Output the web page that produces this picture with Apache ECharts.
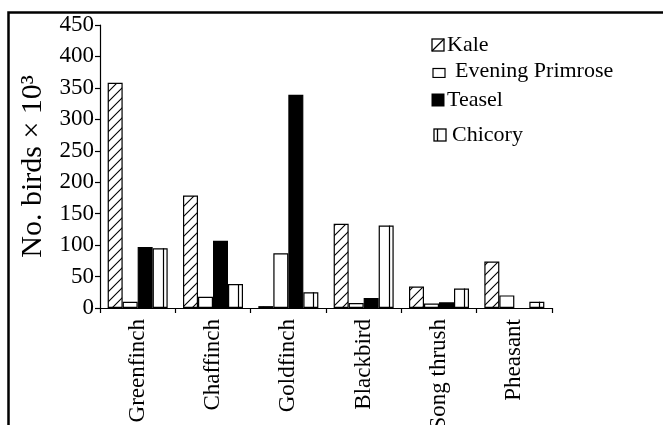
<!DOCTYPE html>
<html>
<head>
<meta charset="utf-8">
<script src="https://cdn.jsdelivr.net/npm/echarts@6/dist/echarts.min.js"></script>
<style>html,body{margin:0;padding:0;background:#fff;}#c{width:663px;height:425px;}</style>
</head>
<body>
<div id="c"></div>
<script>
const categories = ['Greenfinch', 'Chaffinch', 'Goldfinch', 'Blackbird', 'Song thrush', 'Pheasant'];
const kale = [358, 179, 3, 134, 34, 74];
const eveningPrimrose = [10, 18, 87, 8, 7, 20];
const teasel = [97, 107, 339, 16, 9, null];
const chicory = [95, 38, 25, 131, 31, 10];
const seriesNames = ['Kale', 'Evening Primrose', 'Teasel', 'Chicory'];
const yMin = 0, yMax = 450, yStep = 50;

const FONT = 'Liberation Serif';

function mk(w, h, draw) {
  const c = document.createElement('canvas');
  c.width = w; c.height = h;
  const ctx = c.getContext('2d');
  draw(ctx);
  return c;
}
// hatch pattern for Kale bars
const hatch = mk(10, 10, ctx => {
  ctx.fillStyle = '#fff'; ctx.fillRect(0, 0, 10, 10);
  ctx.strokeStyle = '#000'; ctx.lineWidth = 1.1;
  ctx.beginPath();
  ctx.moveTo(-1, 11); ctx.lineTo(11, -1);
  ctx.moveTo(-1, 1); ctx.lineTo(1, -1);
  ctx.moveTo(9, 11); ctx.lineTo(11, 9);
  ctx.stroke();
});
// legend icons
const iconKale = mk(14, 14, ctx => {
  ctx.fillStyle = '#fff'; ctx.fillRect(0, 0, 14, 14);
  ctx.strokeStyle = '#000'; ctx.lineWidth = 1.3;
  ctx.strokeRect(1, 1, 12, 12);
  ctx.beginPath(); ctx.moveTo(1, 13); ctx.lineTo(13, 1); ctx.stroke();
}).toDataURL();
const iconEP = mk(14, 14, ctx => {
  ctx.fillStyle = '#fff'; ctx.fillRect(0, 0, 14, 14);
  ctx.strokeStyle = '#000'; ctx.lineWidth = 1.2;
  ctx.strokeRect(1, 4.5, 12, 9);
}).toDataURL();
const iconTeasel = mk(14, 14, ctx => {
  ctx.fillStyle = '#000'; ctx.fillRect(0.5, 0.5, 13, 13);
}).toDataURL();
const iconChicory = mk(14, 14, ctx => {
  ctx.fillStyle = '#fff'; ctx.fillRect(0, 0, 14, 14);
  ctx.strokeStyle = '#000'; ctx.lineWidth = 1.3;
  ctx.strokeRect(1, 1, 12, 12);
  ctx.beginPath(); ctx.moveTo(4.5, 1); ctx.lineTo(4.5, 13); ctx.stroke();
}).toDataURL();

const chart = echarts.init(document.getElementById('c'), null, {renderer: 'canvas'});

function legendAt(name, icon, left, cy, padLeft) {
  return {
    data: [{name: name, icon: 'image://' + icon}],
    left: left, top: cy - 12, orient: 'vertical', padding: 0,
    itemWidth: 14, itemHeight: 14, itemGap: 0, selectedMode: false,
    textStyle: {fontFamily: FONT, fontSize: 22, color: '#000', lineHeight: 24, padding: [0, 0, 0, padLeft]}
  };
}

const borderStyle = {borderColor: '#000', borderWidth: 1.2};

chart.setOption({
  animation: false,
  backgroundColor: '#fff',
  grid: {left: 100, right: 111, top: 25, bottom: 117, containLabel: false, outerBoundsMode: 'none'},
  graphic: [{
    type: 'rect', silent: true, z: 100,
    shape: {x: 8.5, y: 12.5, width: 800, height: 600},
    style: {fill: 'none', stroke: '#000', lineWidth: 2.5}
  }],
  legend: [
    legendAt(seriesNames[0], iconKale, 431, 45, -3),
    legendAt(seriesNames[1], iconEP, 432, 71, 4),
    legendAt(seriesNames[2], iconTeasel, 431, 100, -3),
    legendAt(seriesNames[3], iconChicory, 433, 135, 0)
  ],
  xAxis: {
    type: 'category', data: categories,
    axisLine: {lineStyle: {color: '#000', width: 1.2}},
    axisTick: {show: true, length: 5, lineStyle: {color: '#000', width: 1.2}},
    axisLabel: {rotate: 90, interval: 0, margin: 11, color: '#000', fontFamily: FONT, fontSize: 23},
    splitLine: {show: false}
  },
  yAxis: {
    type: 'value', min: yMin, max: yMax, interval: yStep,
    name: 'No. birds × 10³', nameLocation: 'middle', nameRotate: 90, nameGap: 46,
    nameTextStyle: {color: '#000', fontFamily: FONT, fontSize: 30},
    axisLine: {show: true, lineStyle: {color: '#000', width: 1.2}},
    axisTick: {show: true, length: 5, lineStyle: {color: '#000', width: 1.2}},
    axisLabel: {margin: 6, color: '#000', fontFamily: FONT, fontSize: 23},
    splitLine: {show: false}
  },
  series: [
    {name: seriesNames[0], type: 'bar', data: kale, barWidth: 15, barGap: '0%',
      itemStyle: Object.assign({color: {image: hatch, repeat: 'repeat'}}, borderStyle)},
    {name: seriesNames[1], type: 'bar', data: eveningPrimrose, barWidth: 15, barGap: '0%',
      itemStyle: Object.assign({color: '#fff'}, borderStyle)},
    {name: seriesNames[2], type: 'bar', data: teasel, barWidth: 15, barGap: '0%',
      itemStyle: Object.assign({color: '#000'}, borderStyle)},
    {name: seriesNames[3], type: 'bar', data: chicory, barWidth: 15, barGap: '0%',
      itemStyle: Object.assign({color: '#fff'}, borderStyle)},
    {name: 'chicoryDivider', type: 'custom', z: 5, silent: true,
      data: chicory.map((v, i) => [i, v]),
      encode: {x: 0, y: 1},
      renderItem: function (params, api) {
        const idx = api.value(0), v = api.value(1);
        const base = api.coord([idx, 0]);
        const top = api.coord([idx, v]);
        const x = Math.round(base[0] + 25) + 0.5;
        return {type: 'line', shape: {x1: x, y1: top[1], x2: x, y2: base[1]},
          style: {stroke: '#000', lineWidth: 1.2}};
      }}
  ]
});
</script>
</body>
</html>
